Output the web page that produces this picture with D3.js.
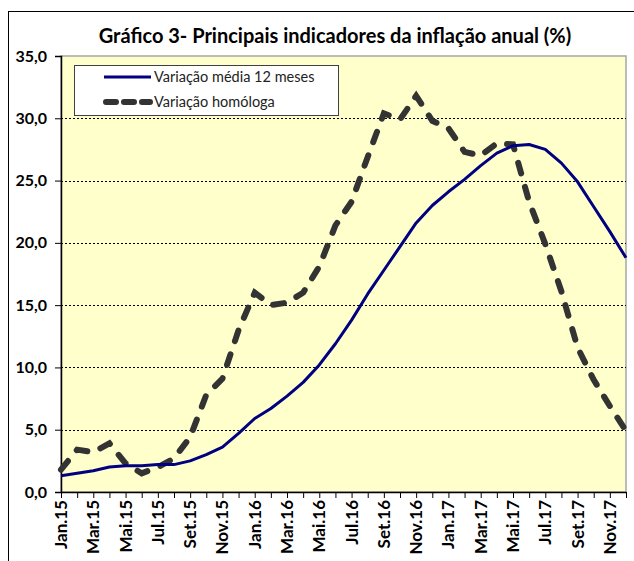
<!DOCTYPE html>
<html>
<head>
  <meta charset="utf-8">
  <title>Gráfico 3</title>
  <script src="https://cdnjs.cloudflare.com/ajax/libs/d3/7.8.5/d3.min.js"></script>
  <style>
    body { margin: 0; background: #fff; }
    svg { display: block; font-family: Lato, 'Open Sans', sans-serif; }
  </style>
</head>
<body>
  <div id="chart"></div>
  <script>
    // months Jan.15 - Dez.17
    var months = ['Jan.15', 'Fev.15', 'Mar.15', 'Abr.15', 'Mai.15', 'Jun.15', 'Jul.15', 'Ago.15', 'Set.15', 'Out.15', 'Nov.15', 'Dez.15',
                  'Jan.16', 'Fev.16', 'Mar.16', 'Abr.16', 'Mai.16', 'Jun.16', 'Jul.16', 'Ago.16', 'Set.16', 'Out.16', 'Nov.16', 'Dez.16',
                  'Jan.17', 'Fev.17', 'Mar.17', 'Abr.17', 'Mai.17', 'Jun.17', 'Jul.17', 'Ago.17', 'Set.17', 'Out.17', 'Nov.17', 'Dez.17'];

    var mediaValues = [1.3, 1.5, 1.7, 2.0, 2.1, 2.1, 2.2, 2.2, 2.5, 3.0, 3.6, 4.7,
                       5.9, 6.7, 7.7, 8.8, 10.2, 11.9, 13.8, 15.9, 17.8, 19.7, 21.6, 23.0,
                       24.1, 25.1, 26.2, 27.2, 27.8, 27.9, 27.5, 26.4, 24.9, 22.9, 20.9, 18.8];

    var homologaValues = [1.8, 3.4, 3.2, 3.9, 2.3, 1.5, 2.0, 2.7, 4.4, 7.8, 9.1, 13.0,
                          16.0, 15.0, 15.2, 16.0, 18.1, 21.4, 23.3, 26.9, 30.4, 29.9, 31.8, 29.8,
                          29.2, 27.3, 27.0, 28.0, 27.9, 23.3, 19.9, 16.1, 11.6, 9.0, 6.9, 4.9];

    var yTicks = [0, 5, 10, 15, 20, 25, 30, 35];
    var xTickLabels = months.filter(function(d, i) { return i % 2 === 0; });

    var seriesNames = ['Variação média 12 meses', 'Variação homóloga'];

    var width = 634, height = 561;
    var plot = { left: 61, right: 626, top: 56, bottom: 492 };

    var svg = d3.select('#chart').append('svg')
      .attr('width', width)
      .attr('height', height);

    // outer chart border (runs off the right and bottom edges)
    svg.append('rect')
      .attr('x', 8.5).attr('y', 11.5)
      .attr('width', 700).attr('height', 700)
      .attr('fill', '#fff')
      .attr('stroke', '#000')
      .attr('stroke-width', 1);

    svg.append('text')
      .attr('x', 335).attr('y', 43)
      .attr('text-anchor', 'middle')
      .attr('font-size', 20)
      .attr('font-weight', 'bold')
      .attr('fill', '#000')
      .text('Gráfico 3- Principais indicadores da inflação anual (%)');

    var x = d3.scalePoint()
      .domain(months)
      .range([plot.left, plot.right]);

    var y = d3.scaleLinear()
      .domain([0, 35])
      .range([plot.bottom, plot.top]);

    // plot area
    svg.append('rect')
      .attr('x', plot.left).attr('y', plot.top)
      .attr('width', plot.right - plot.left)
      .attr('height', plot.bottom - plot.top)
      .attr('fill', '#ffffcc')
      .attr('stroke', '#a6a6a6')
      .attr('stroke-width', 1.5);

    // gridlines
    svg.append('g')
      .selectAll('line')
      .data(yTicks.filter(function(d) { return d > 0 && d < 35; }))
      .enter().append('line')
      .attr('x1', plot.left).attr('x2', plot.right)
      .attr('y1', function(d) { return Math.round(y(d)) + 0.5; })
      .attr('y2', function(d) { return Math.round(y(d)) + 0.5; })
      .attr('stroke', '#000')
      .attr('stroke-width', 1)
      .attr('stroke-dasharray', '2,2');

    // y axis
    var yAxis = svg.append('g')
      .attr('transform', 'translate(' + plot.left + ',0)')
      .call(d3.axisLeft(y)
        .tickValues(yTicks)
        .tickSize(6)
        .tickPadding(8)
        .tickFormat(function(d) { return d3.format('.1f')(d).replace('.', ','); }));
    yAxis.select('.domain').attr('stroke', '#000').attr('stroke-width', 1.5);
    yAxis.selectAll('.tick line').attr('stroke', '#000');
    yAxis.selectAll('text')
      .attr('font-family', 'Lato, sans-serif')
      .attr('font-size', 16)
      .attr('font-weight', 'bold')
      .attr('fill', '#000');

    // x axis
    var xAxis = svg.append('g')
      .attr('transform', 'translate(0,' + plot.bottom + ')')
      .call(d3.axisBottom(x).tickSize(6).tickSizeOuter(0).tickFormat(''));
    xAxis.select('.domain').attr('stroke', '#000').attr('stroke-width', 1.5);
    xAxis.selectAll('.tick line').attr('stroke', '#000');

    svg.append('g')
      .selectAll('text')
      .data(xTickLabels)
      .enter().append('text')
      .attr('transform', function(d) { return 'translate(' + (x(d) + 6) + ',' + (plot.bottom + 8) + ') rotate(-90)'; })
      .attr('text-anchor', 'end')
      .attr('font-size', 17)
      .attr('font-weight', 'bold')
      .attr('fill', '#000')
      .text(function(d) { return d; });

    // lines
    var line = d3.line()
      .x(function(d, i) { return x(months[i]); })
      .y(function(d) { return y(d); });

    svg.append('path')
      .datum(homologaValues)
      .attr('d', line)
      .attr('fill', 'none')
      .attr('stroke', '#333333')
      .attr('stroke-width', 6)
      .attr('stroke-linecap', 'round')
      .attr('stroke-dasharray', '11,14');

    svg.append('path')
      .datum(mediaValues)
      .attr('d', line)
      .attr('fill', 'none')
      .attr('stroke', '#000080')
      .attr('stroke-width', 3)
      .attr('stroke-linejoin', 'round');

    // legend
    var legend = svg.append('g');
    legend.append('rect')
      .attr('x', 74.5).attr('y', 65.5)
      .attr('width', 264).attr('height', 50)
      .attr('fill', '#fff')
      .attr('stroke', '#404040')
      .attr('stroke-width', 1);

    legend.append('line')
      .attr('x1', 104).attr('x2', 151)
      .attr('y1', 77).attr('y2', 77)
      .attr('stroke', '#000080')
      .attr('stroke-width', 3);

    legend.append('line')
      .attr('x1', 106).attr('x2', 150)
      .attr('y1', 102).attr('y2', 102)
      .attr('stroke', '#333333')
      .attr('stroke-width', 6)
      .attr('stroke-linecap', 'round')
      .attr('stroke-dasharray', '10,8');

    legend.selectAll('text.item')
      .data(seriesNames)
      .enter().append('text')
      .attr('class', 'item')
      .attr('x', 154)
      .attr('y', function(d, i) { return 82 + i * 25; })
      .attr('font-size', 14.5)
      .attr('fill', '#222')
      .text(function(d) { return d; });
  </script>
</body>
</html>
